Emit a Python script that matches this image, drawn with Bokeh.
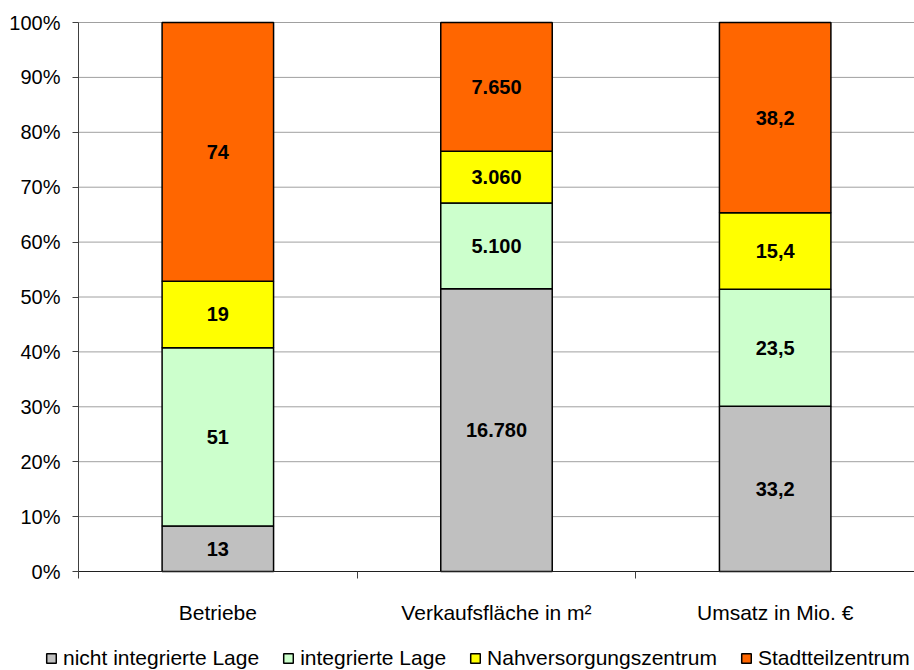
from bokeh.plotting import figure
from bokeh.models import (ColumnDataSource, Range1d, FixedTicker, CustomJSTickFormatter,
                          PrintfTickFormatter, Legend, LegendItem, LabelSet)
from bokeh.core.properties import value
from bokeh.embed import file_html
from bokeh.resources import INLINE

categories = ["Betriebe", "Verkaufsfläche in m²", "Umsatz in Mio. €"]
series = ["nicht integrierte Lage", "integrierte Lage", "Nahversorgungszentrum", "Stadtteilzentrum"]
nicht_integriert = [13, 16780, 33.2]
integriert = [51, 5100, 23.5]
nahversorgung = [19, 3060, 15.4]
stadtteil = [74, 7650, 38.2]
decimals = [0, 0, 1]
colors = ["#C0C0C0", "#CCFFCC", "#FFFF00", "#FF6600"]
y_ticks = [0, 10, 20, 30, 40, 50, 60, 70, 80, 90, 100]

values = [nicht_integriert, integriert, nahversorgung, stadtteil]
n = len(categories)
xs = [i + 0.5 for i in range(n)]
totals = [sum(v[i] for v in values) for i in range(n)]

def fmt_de(v, d):
    s = f"{v:,.{d}f}"
    return s.replace(",", "X").replace(".", ",").replace("X", ".")

keys = ["s0", "s1", "s2", "s3"]
data = {"x": xs}
for k, v in zip(keys, values):
    data[k] = [v[i] / totals[i] * 100 for i in range(n)]
src = ColumnDataSource(data)

lab_x, lab_y, lab_t = [], [], []
for i in range(n):
    cum = 0.0
    for v in values:
        pct = v[i] / totals[i] * 100
        lab_x.append(xs[i])
        lab_y.append(cum + pct / 2)
        lab_t.append(fmt_de(v[i], decimals[i]))
        cum += pct
lab_src = ColumnDataSource(dict(x=lab_x, y=lab_y, t=lab_t))

FONT = "Liberation Sans"

# page layout in pixels: plot area 78..914 (x), 22..571 (y), canvas 914x670
W, H = 914, 670
LEFT, TOP, BOTTOM = 78, 22, 99
px_x = (W - LEFT) / n
px_y = (H - TOP - BOTTOM) / 100.0
x_range = Range1d(-LEFT / px_x, n)
y_range = Range1d(-BOTTOM / px_y, 100 + TOP / px_y)

p = figure(width=W, height=H, output_backend="svg", toolbar_location=None,
           x_range=x_range, y_range=y_range, min_border=0)
p.outline_line_color = None
p.background_fill_color = "white"
p.border_fill_color = "white"
p.xgrid.grid_line_color = None
p.ygrid.grid_line_color = None

# horizontal gridlines at the y ticks, spanning the category area
p.segment(x0=0, x1=n, y0=y_ticks, y1=y_ticks, line_color="#A0A0A0", line_width=1,
          level="underlay")

renderers = p.vbar_stack(keys, x="x", width=0.4, source=src, color=colors,
                         line_color="black", line_width=1.5)

labels = LabelSet(x="x", y="y", text="t", source=lab_src, text_align="center",
                  text_baseline="middle", text_font=value(FONT),
                  text_font_style="bold", text_font_size="20px", text_color="black")
p.add_layout(labels)

# x axis fixed at y = 0
xa = p.xaxis[0]
xa.fixed_location = 0
xa.bounds = (0, n)
xa.ticker = FixedTicker(ticks=xs, minor_ticks=list(range(n + 1)))
xa.formatter = CustomJSTickFormatter(args=dict(labels=categories),
                                     code="return labels[Math.round(tick - 0.5)];")
xa.major_tick_line_color = None
xa.minor_tick_in = 0
xa.minor_tick_out = 7
xa.minor_tick_line_color = "#404040"
xa.axis_line_color = "#202020"
xa.major_label_standoff = 22
xa.major_label_text_font = FONT
xa.major_label_text_font_size = "21px"
xa.major_label_text_color = "black"

# y axis fixed at x = 0
ya = p.yaxis[0]
ya.fixed_location = 0
ya.bounds = (0, 100)
ya.ticker = FixedTicker(ticks=y_ticks)
ya.formatter = PrintfTickFormatter(format="%d%%")
ya.major_tick_in = 0
ya.major_tick_out = 6
ya.minor_tick_line_color = None
ya.major_tick_line_color = "#404040"
ya.axis_line_color = "#404040"
ya.major_label_standoff = 12
ya.major_label_text_font = FONT
ya.major_label_text_font_size = "20px"
ya.major_label_text_color = "black"

items = [LegendItem(label=s, renderers=[r]) for s, r in zip(series, renderers)]
legend = Legend(items=items, orientation="horizontal", location=(45, 0),
                label_text_font=FONT, label_text_font_size="21px",
                label_text_color="black", glyph_width=12, glyph_height=12,
                label_standoff=6, spacing=23, padding=0, margin=0,
                border_line_color=None, background_fill_alpha=0,
                label_height=20)
p.add_layout(legend)

open("out.html", "w").write(file_html(p, INLINE))
